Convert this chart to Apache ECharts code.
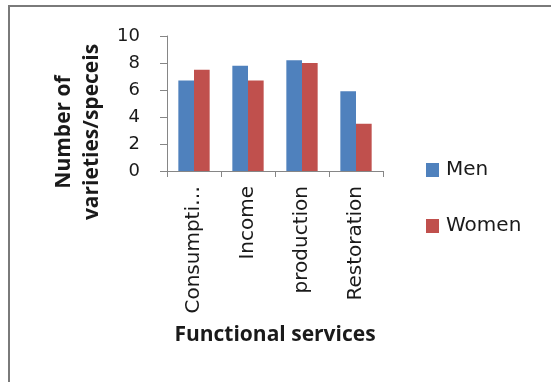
<!DOCTYPE html>
<html>
<head>
<meta charset="utf-8">
<script src="https://cdn.jsdelivr.net/npm/echarts@6/dist/echarts.min.js"></script>
<style>
  html, body { margin: 0; padding: 0; background: #fff; }
  #frame { position: absolute; left: 8px; top: 5px; width: 543px; height: 377px;
           border-top: 2px solid #7a7a7a; border-left: 2px solid #7a7a7a; box-sizing: border-box; }
  #chart { position: absolute; left: 0; top: 0; width: 551px; height: 382px; }
</style>
</head>
<body>
<div id="frame"></div>
<div id="chart"></div>
<script>
// Functional services and number of varieties/species named by each group
const categories = ['Consumption', 'Income', 'production', 'Restoration'];
const menValues = [6.7, 7.8, 8.2, 5.9];
const womenValues = [7.5, 6.7, 8.0, 3.5];
const yTicks = [0, 2, 4, 6, 8, 10];
const yTitleLines = ['Number of', 'varieties/speceis'];

const BODY_FONT = '"DejaVu Sans", sans-serif';
const TITLE_FONT = '"Open Sans", "Noto Sans", sans-serif';
const TEXT_COLOR = '#1a1a1a';
const AXIS_COLOR = '#868686';

const chart = echarts.init(document.getElementById('chart'), null, { renderer: 'canvas' });

// Vertical axis title, two rotated lines sitting left of the tick labels
const yTitleGraphics = yTitleLines.map((line, i) => ({
  type: 'text',
  x: 64 + i * 28,
  y: 132,
  rotation: Math.PI / 2,
  style: {
    text: line,
    font: 'bold 21px ' + TITLE_FONT,
    fill: TEXT_COLOR,
    textAlign: 'center',
    textVerticalAlign: 'middle'
  }
}));

chart.setOption({
  backgroundColor: 'transparent',
  animation: false,
  grid: { left: 167, top: 36, right: 168, bottom: 211, containLabel: false },
  graphic: yTitleGraphics,
  legend: {
    orient: 'vertical',
    left: 426,
    top: 160,
    padding: 0,
    itemWidth: 13,
    itemHeight: 14,
    itemGap: 36,
    icon: 'rect',
    textStyle: { fontFamily: BODY_FONT, fontSize: 20, color: TEXT_COLOR, padding: [0, 0, 0, 2] },
    data: ['Men', 'Women']
  },
  xAxis: {
    type: 'category',
    data: categories,
    name: 'Functional services',
    nameLocation: 'middle',
    nameGap: 154,
    nameTextStyle: { fontFamily: TITLE_FONT, fontSize: 21, fontWeight: 'bold', color: TEXT_COLOR },
    axisLine: { lineStyle: { color: AXIS_COLOR, width: 1 } },
    axisTick: { show: true, length: 6, alignWithLabel: false, lineStyle: { color: AXIS_COLOR } },
    axisLabel: {
      rotate: 90,
      margin: 15,
      fontFamily: BODY_FONT,
      fontSize: 20,
      color: TEXT_COLOR,
      width: 130,
      overflow: 'truncate',
      ellipsis: '…',
      interval: 0
    }
  },
  yAxis: {
    type: 'value',
    min: yTicks[0],
    max: yTicks[yTicks.length - 1],
    interval: 2,
    splitLine: { show: false },
    axisLine: { show: true, lineStyle: { color: AXIS_COLOR, width: 1 } },
    axisTick: { show: true, length: 7, lineStyle: { color: AXIS_COLOR } },
    axisLabel: { fontFamily: BODY_FONT, fontSize: 18, color: TEXT_COLOR, margin: 27 }
  },
  series: [
    {
      name: 'Men',
      type: 'bar',
      data: menValues,
      barGap: '0%',
      barCategoryGap: '42%',
      itemStyle: { color: '#4F81BD' }
    },
    {
      name: 'Women',
      type: 'bar',
      data: womenValues,
      itemStyle: { color: '#C0504D' }
    }
  ]
});
</script>
</body>
</html>
